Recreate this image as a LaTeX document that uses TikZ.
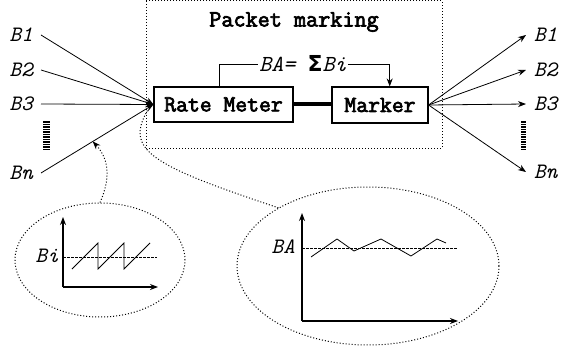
\documentclass[tikz,border=0pt]{standalone}
\usepackage{fontspec}
\newfontfamily\boxfont[FakeBold=3]{Latin Modern Mono}
\newfontfamily\sigmafont{DejaVu Sans}
\usetikzlibrary{shapes.geometric,calc,arrows.meta}
\tikzset{
  box/.style={draw, line width=1.1pt, font=\fontsize{23}{23}\boxfont, inner sep=0pt},
  flow/.style={font=\fontsize{22}{22}\selectfont\ttfamily\itshape, inner sep=1pt},
  loose/.style={line width=1pt, dash pattern=on 1pt off 2pt},
  zoombox/.style={draw, loose, ellipse, inner sep=0pt},
  axis/.style={line width=1.4pt, -{Stealth[length=8pt,width=6pt]}},
}
\begin{document}
\begin{tikzpicture}[x=1pt, y=-1pt, >={Stealth[length=8pt,width=6pt]}]
    \useasboundingbox (0,0) rectangle (563,353);
    % packet marking block
    \draw[loose] (146,1) rectangle (442,148);
    \node[font=\fontsize{23.5}{23.5}\boxfont] (title) at (294,22) {Packet marking};
    \node[box, minimum width=139pt, minimum height=35pt] (rate) at (223.5,104.5) {Rate Meter};
    \node[box, minimum width=96pt, minimum height=36pt] (marker) at (380,105) {Marker};
    \fill (rate.east |- 0,102.5) rectangle (marker.west |- 0,106.5);
    \node[flow, font=\fontsize{23}{23}\selectfont\ttfamily\itshape] (sum) at (303,64) {BA= {\fontsize{22}{22}\sigmafont\upshape\bfseries Σ}Bi};
    \draw[thick] ($(rate.north west)!0.47!(rate.north east)$) |- (sum.west);
    \draw[thick, ->] (sum.east) -| ($(marker.north west)!0.6!(marker.north east)$);
    % input flows
    \node[flow, anchor=east] (in1) at (34,35) {B1};
    \node[flow, anchor=east] (in2) at (34,70) {B2};
    \node[flow, anchor=east] (in3) at (34,104) {B3};
    \node[flow, anchor=east] (inn) at (34,173) {Bn};
    \foreach \n in {1,2,3,n}
        \draw[thick, ->] ([xshift=7pt]in\n.east) -- (rate.west);
    % output flows
    \node[flow, anchor=west] (out1) at (533,35) {B1};
    \node[flow, anchor=west] (out2) at (533,70) {B2};
    \node[flow, anchor=west] (out3) at (533,104) {B3};
    \node[flow, anchor=west] (outn) at (533,172) {Bn};
    \foreach \n in {1,2,3,n}
        \draw[thick, ->] (marker.east) -- ([xshift=-7pt]out\n.west);
    % vertical dots
    \foreach \y in {122,124.5,...,150} {
        \draw[line width=1.2pt] (43,\y) -- (50,\y);
        \draw[line width=1.2pt] (521,\y) -- (526,\y);
    }
    % zoom on one flow
    \node[zoombox, minimum width=170pt, minimum height=114pt] (zoomi) at (100,260) {};
    \coordinate (onflow) at ($([xshift=7pt]inn.east)!0.46!(rate.west)$);
    \draw[loose, ->] (zoomi.north) .. controls (110,180) and (110,160) .. (onflow);
    \draw[axis] (63,287) -- (63,217);
    \draw[axis] (63,287) -- (158,287);
    \draw[thick, dash pattern=on 2.5pt off 1.5pt] (63,257) -- (157,257);
    \draw[thick] (72,269) -- (98,243) -- (98,269) -- (124,243) -- (124,269) -- (150,243);
    \node[flow, anchor=east] (bi) at (60,256) {Bi};
    % zoom on aggregate
    \node[zoombox, minimum width=262pt, minimum height=158pt] (zooma) at (368,266) {};
    \draw[loose] ($(rate.west)+(-6,6)$) .. controls (125,150) and (150,165) .. (zooma.147);
    \draw[axis] (302,321) -- (302,213);
    \draw[axis] (302,321) -- (458,321);
    \draw[thick, dash pattern=on 2.5pt off 1.5pt] (302,248) -- (457,248);
    \draw[thick] (311,257) -- (337,239) -- (354,251) -- (381,239) -- (411,256) -- (437,239) -- (446,243);
    \node[flow, anchor=east] (ba) at (296,247) {BA};
\end{tikzpicture}
\end{document}
